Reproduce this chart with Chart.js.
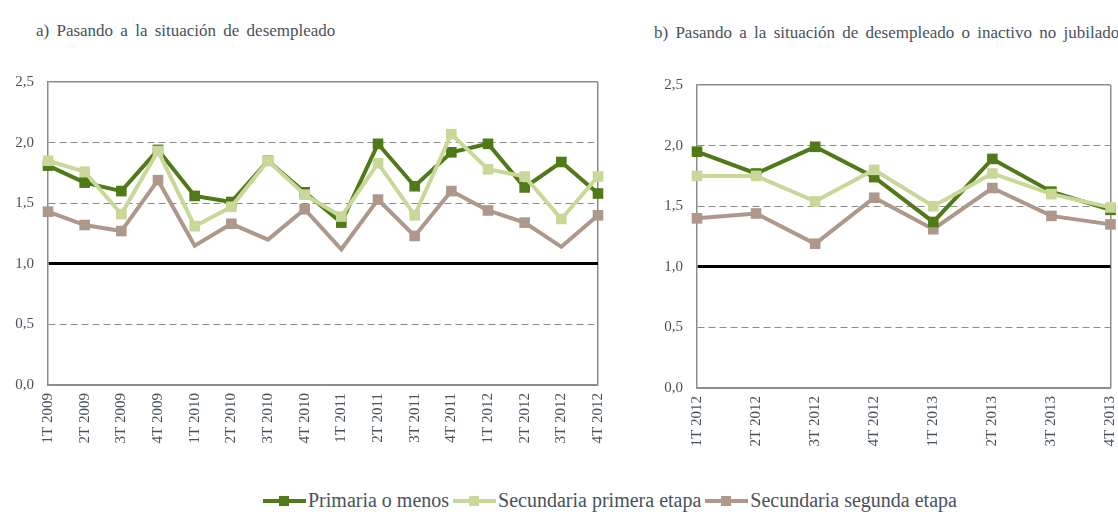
<!DOCTYPE html>
<html lang="es">
<head>
<meta charset="utf-8">
<title>Pasando a la situación de desempleado</title>
<script src="https://cdn.jsdelivr.net/npm/chart.js@4.4.1/dist/chart.umd.min.js"></script>
<style>
  html, body { margin: 0; padding: 0; background: #fff; }
  body {
    width: 1118px; height: 512px; position: relative; overflow: hidden;
    color: #48525c;
  }
  .titulo { position: absolute; font-size: 17px; line-height: 17px; word-spacing: 3px; white-space: nowrap; }
  canvas { position: absolute; top: 0; }
  #leyenda {
    position: absolute; left: 263px; top: 489px; display: flex; align-items: center;
    font-size: 20px; line-height: 23px; white-space: nowrap;
  }
  #leyenda .item { display: flex; align-items: center; margin-right: 4px; }
  #leyenda .linea { position: relative; width: 43px; height: 4px; margin-right: 2px; }
  #leyenda .linea i { position: absolute; left: 16px; top: -3px; width: 10px; height: 10px; }
</style>
</head>
<body>

<div class="titulo" style="left:36px; top:22px;">a) Pasando a la situación de desempleado</div>
<div class="titulo" style="left:654px; top:24px;">b) Pasando a la situación de desempleado o inactivo no jubilado</div>

<canvas id="graficoA" width="620" height="480" style="left:0"></canvas>
<canvas id="graficoB" width="478" height="480" style="left:640px"></canvas>

<div id="leyenda"></div>

<script>
// Series
const series = ['Primaria o menos', 'Secundaria primera etapa', 'Secundaria segunda etapa'];

// a) Pasando a la situación de desempleado
const trimestresA = ['1T 2009', '2T 2009', '3T 2009', '4T 2009', '1T 2010', '2T 2010', '3T 2010', '4T 2010',
                     '1T 2011', '2T 2011', '3T 2011', '4T 2011', '1T 2012', '2T 2012', '3T 2012', '4T 2012'];
const primariaA = [1.81, 1.67, 1.60, 1.94, 1.56, 1.51, 1.85, 1.59, 1.34, 1.99, 1.64, 1.92, 1.99, 1.63, 1.84, 1.58];
const primeraA  = [1.85, 1.76, 1.41, 1.93, 1.31, 1.47, 1.85, 1.57, 1.39, 1.83, 1.40, 2.07, 1.78, 1.72, 1.37, 1.72];
const segundaA  = [1.43, 1.32, 1.27, 1.69, 1.15, 1.33, 1.20, 1.45, 1.12, 1.53, 1.23, 1.60, 1.44, 1.34, 1.14, 1.40];

// b) Pasando a la situación de desempleado o inactivo no jubilado
const trimestresB = ['1T 2012', '2T 2012', '3T 2012', '4T 2012', '1T 2013', '2T 2013', '3T 2013', '4T 2013'];
const primariaB = [1.95, 1.77, 1.99, 1.74, 1.37, 1.89, 1.62, 1.47];
const primeraB  = [1.75, 1.75, 1.54, 1.80, 1.50, 1.77, 1.60, 1.49];
const segundaB  = [1.40, 1.44, 1.19, 1.57, 1.31, 1.65, 1.42, 1.35];

// Eje Y
const ticksY = [0, 0.5, 1, 1.5, 2, 2.5];

// en a) la serie de segunda etapa no lleva marcador en algunos trimestres
const marcaSegundaA = [1, 1, 1, 1, 0, 1, 0, 1, 0, 1, 1, 1, 1, 1, 0, 1];

const colores = ['#4f7a17', '#c9d898', '#ae988b'];
const GRIS = '#8c8c8c';
const TEXTO = '#48525c';

// elegir una fuente con serifa que exista de verdad
function hayFuente(nombre) {
  const c = document.createElement('canvas').getContext('2d');
  const muestra = 'Pasando a la situación 1T 2009 mmmWWWiii';
  return ['monospace', 'sans-serif'].every(base => {
    c.font = '40px ' + base;
    const a = c.measureText(muestra).width;
    c.font = '40px "' + nombre + '", ' + base;
    return c.measureText(muestra).width !== a;
  });
}
const candidatas = ['Liberation Serif', 'Times New Roman', 'Tinos', 'DejaVu Serif', 'Noto Serif'];
const elegida = candidatas.find(hayFuente);
const FAMILIA = (elegida ? '"' + elegida + '", ' : '') + 'serif';
document.body.style.fontFamily = FAMILIA;
const fuente = { family: FAMILIA, size: 15 };

function serie(i, datos, marcas) {
  return {
    label: series[i],
    data: datos,
    borderColor: colores[i],
    backgroundColor: colores[i],
    pointBackgroundColor: colores[i],
    pointBorderColor: colores[i],
    pointBorderWidth: 0,
    pointStyle: 'rect',
    pointRadius: marcas ? marcas.map(m => m ? 7.5 : 0) : 7.5,
    borderWidth: 4,
    tension: 0,
    clip: false,
    order: [2, 1, 3][i]
  };
}

function crearGrafico(id, etiquetas, datasets, opts) {
  const n = etiquetas.length;
  return new Chart(document.getElementById(id), {
    type: 'line',
    data: { labels: etiquetas, datasets },
    options: {
      responsive: false,
      animation: false,
      events: [],
      layout: { padding: { top: opts.top, right: opts.right, left: 0, bottom: 0 } },
      plugins: { legend: { display: false }, tooltip: { enabled: false } },
      scales: {
        x: {
          offset: false,
          afterFit: (s) => { s.height = opts.alturaX; s.paddingLeft = 0; s.paddingRight = 0; },
          grid: {
            drawTicks: false,
            color: (c) => c.index === n - 1 ? GRIS : 'rgba(0,0,0,0)',
            lineWidth: 1.5
          },
          border: { display: true, color: GRIS, width: 1.5 },
          ticks: {
            autoSkip: false, minRotation: 90, maxRotation: 90, padding: 8,
            color: TEXTO, font: fuente
          }
        },
        y: {
          min: 0, max: 2.5,
          afterFit: (s) => { s.width = opts.anchoY; s.paddingTop = 0; s.paddingBottom = 0; },
          afterBuildTicks: (s) => { s.ticks = ticksY.map(v => ({ value: v })); },
          grid: {
            drawTicks: false,
            color: (c) => (c.tick && c.tick.value === 1) ? '#000000' : GRIS,
            lineWidth: (c) => (c.tick && c.tick.value === 1) ? 3 : (c.tick && c.tick.value === 2.5 ? 1.5 : 1)
          },
          border: {
            display: true, color: GRIS, width: 1.5,
            dash: (c) => (c.tick && [0.5, 1.5, 2].includes(c.tick.value)) ? [7, 4] : []
          },
          ticks: {
            padding: 14, color: TEXTO, font: fuente,
            callback: (v) => v.toFixed(1).replace('.', ',')
          }
        }
      }
    }
  });
}

crearGrafico('graficoA', trimestresA,
  [serie(0, primariaA), serie(1, primeraA), serie(2, segundaA, marcaSegundaA)],
  { top: 82, right: 22, alturaX: 95, anchoY: 48 });

crearGrafico('graficoB', trimestresB,
  [serie(0, primariaB), serie(1, primeraB), serie(2, segundaB)],
  { top: 85, right: 5, alturaX: 92, anchoY: 57 });

// Leyenda común
const leyenda = document.getElementById('leyenda');
series.forEach((nombre, i) => {
  const item = document.createElement('span');
  item.className = 'item';
  const linea = document.createElement('span');
  linea.className = 'linea';
  linea.style.background = colores[i];
  const marca = document.createElement('i');
  marca.style.background = colores[i];
  linea.appendChild(marca);
  item.appendChild(linea);
  item.appendChild(document.createTextNode(nombre));
  leyenda.appendChild(item);
});
</script>
</body>
</html>
